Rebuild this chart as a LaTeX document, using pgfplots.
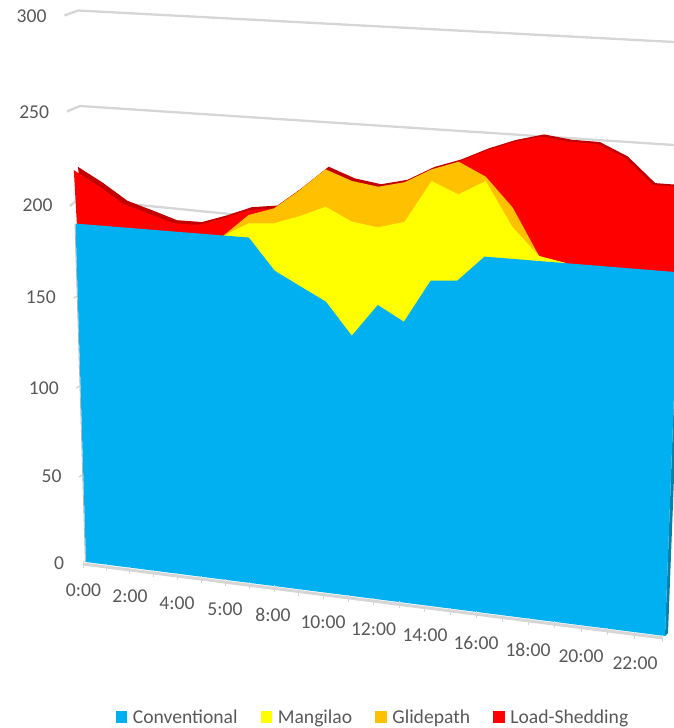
\documentclass[border=0pt]{standalone}
\usepackage{pgfplots}
\usepackage{pgfplotstable}
\usepackage{fontspec}
\setmainfont{Carlito}
\pgfplotsset{compat=1.18}

\definecolor{cblue}{HTML}{00B0F0}
\definecolor{cyellow}{HTML}{FFFF00}
\definecolor{corange}{HTML}{FFC000}
\definecolor{cred}{HTML}{FF0000}
\definecolor{cdark}{HTML}{C00000}
\definecolor{cside}{HTML}{0B7FA6}
\definecolor{cgrid}{HTML}{D6D6D6}
\definecolor{ctext}{HTML}{595959}

% hour, then the four stacked series
\pgfplotstableread{
h  con   man  gli  lsh
0  190   0    0    28.7
1  190   0    0    21.3
2  190   0    0    12.6
3  190   0    0    8.6
4  190   0    0    4.4
5  190   0    0    4.5
6  190   0    0    9.1
7  190   7.5  4.4  2.6
8  173.6 25.0 7.8  0
9  166.5 36.9 13.5 0
10 159.5 49.8 19.3 0
11 142.7 59.9 21.0 0
12 160.2 40.5 20.9 0
13 152.6 52.0 20.3 0
14 175.3 51.2 5.9  0
15 176.5 44.2 16.5 0
16 190   38.4 2.2  13.1
17 190   16.3 9.8  32.8
18 190   2.5  0    60.0
19 190   0    0    60.8
20 190   0    0    60.6
21 190   0    0    54.5
22 190   0    0    42.3
23 190   0    0    42.3
}\loaddata

\begin{document}
\begin{tikzpicture}[
  declare function={
    projw(\u,\v)=1-0.07459*\u/23-0.06045*\v/300;
    projx(\u,\v)=(529.40*\u/23-21.17*\v/300+86)/projw(\u,\v);
    projy(\u,\v)=(26.56*\u/23-547.91*\v/300+562)/projw(\u,\v);
  },
  lab/.style={text=ctext,font=\fontsize{19.6}{22}\selectfont,inner sep=0pt}
]
\useasboundingbox (0,0) rectangle (674pt,728pt);
\begin{axis}[
  at={(0,0)},anchor=south west,
  scale only axis,width=674pt,height=728pt,
  xmin=0,xmax=674,ymin=0,ymax=728,y dir=reverse,
  hide axis,
  legend columns=-1,
  legend cell align=left,
  legend style={at={(axis cs:373,717)},anchor=center,draw=none,fill=none,
    font=\fontsize{19.6}{22}\selectfont,text=ctext,inner sep=0pt,
    /tikz/every even column/.append style={column sep=21pt},
    /tikz/every odd column/.append style={column sep=4pt}},
]
% wall gridlines
\addplot[cgrid,line width=2.3pt,forget plot] coordinates {(64.5,15.5)(78,10.5)(674,42)};
\addplot[cgrid,line width=2.3pt,forget plot] coordinates {(67,111.5)(80,106)(674,145)};
\addplot[cgrid,line width=2.3pt,forget plot] coordinates {(70,206)(78,199)(240,215)};
% short ticks and the edge on the left of the wall
\addplot[cgrid,line width=1.5pt,forget plot] coordinates {(73.5,298)(78,296)};
\addplot[cgrid,line width=1.5pt,forget plot] coordinates {(76,388)(80,386)};
\addplot[cgrid,line width=1.5pt,forget plot] coordinates {(79,477)(84,474)};
\addplot[cgrid!85!black,line width=0.8pt,forget plot] coordinates {(75,224)(85.4,562)};

% floor edge and category ticks
\addplot[cgrid,line width=3pt,forget plot] coordinates {(83,564)(663,638)};
\addplot[cgrid,only marks,mark=|,mark size=3.5pt,mark options={line width=1pt},forget plot]
  table[x expr={projx(\thisrow{h},0)-3},y expr={projy(\thisrow{h},0)+2.5}] {\loaddata};

% areas, back to front: each is closed inside the area in front of it
\addplot[fill=cdark,draw=none,forget plot]
  table[x expr={projx(\thisrow{h},\thisrow{con}+\thisrow{man}+\thisrow{gli}+\thisrow{lsh})+4-2*\thisrow{h}/23},
        y expr={projy(\thisrow{h},\thisrow{con}+\thisrow{man}+\thisrow{gli}+\thisrow{lsh})-3.3+1.5*\thisrow{h}/23}] {\loaddata}
  -- (axis cs:677,275) -- (axis cs:600,500) -- (axis cs:120,450) -- cycle;
\addplot[fill=cred,draw=none,forget plot]
  table[x expr={projx(\thisrow{h},\thisrow{con}+\thisrow{man}+\thisrow{gli}+\thisrow{lsh})},
        y expr={projy(\thisrow{h},\thisrow{con}+\thisrow{man}+\thisrow{gli}+\thisrow{lsh})}] {\loaddata}
  -- (axis cs:677,275) -- (axis cs:600,500) -- (axis cs:120,450) -- (axis cs:77,226) -- cycle;
\addplot[fill=corange,draw=none,forget plot,skip coords between index={0}{6},skip coords between index={20}{24}]
  table[x expr={projx(\thisrow{h},\thisrow{con}+\thisrow{man}+\thisrow{gli})},
        y expr={projy(\thisrow{h},\thisrow{con}+\thisrow{man}+\thisrow{gli})}] {\loaddata}
  -- (axis cs:350,450) -- cycle;
\addplot[fill=cyellow,draw=none,forget plot,skip coords between index={0}{6},skip coords between index={20}{24}]
  table[x expr={projx(\thisrow{h},\thisrow{con}+\thisrow{man})},
        y expr={projy(\thisrow{h},\thisrow{con}+\thisrow{man})}] {\loaddata}
  -- (axis cs:350,450) -- cycle;
\addplot[fill=cside,draw=none,forget plot]
  coordinates {(665,636)(668,633)(682,270)(678.6,272.4)} -- cycle;
\addplot[fill=cblue,draw=none,forget plot]
  table[x expr={projx(\thisrow{h},\thisrow{con})},y expr={projy(\thisrow{h},\thisrow{con})}] {\loaddata}
  -- (axis cs:665,636) -- (axis cs:86,562) -- cycle;

% legend in the order of the reference
\pgfplotsset{legend image code/.code={\fill[#1] (0pt,-5.4pt) rectangle (10.8pt,5.4pt);}}
\addlegendimage{cblue}
\addlegendentry{Conventional}
\addlegendimage{cyellow}
\addlegendentry{Mangilao}
\addlegendimage{corange}
\addlegendentry{Glidepath}
\addlegendimage{cred}
\addlegendentry{Load-Shedding}

% value labels follow the slanted wall
\node[lab,anchor=east] at (axis cs:46.7,16) {300};
\node[lab,anchor=east] at (axis cs:49.3,112) {250};
\node[lab,anchor=east] at (axis cs:52.7,205) {200};
\node[lab,anchor=east] at (axis cs:56,297.5) {150};
\node[lab,anchor=east] at (axis cs:59,388) {100};
\node[lab,anchor=east] at (axis cs:61.7,476) {50};
\node[lab,anchor=east] at (axis cs:64.3,563) {0};

% category labels
\node[lab] at (axis cs:83.5,590.5) {0:00};
\node[lab] at (axis cs:130,596.5) {2:00};
\node[lab] at (axis cs:177,603) {4:00};
\node[lab] at (axis cs:225,609) {5:00};
\node[lab] at (axis cs:273,615) {8:00};
\node[lab] at (axis cs:323,622) {10:00};
\node[lab] at (axis cs:373.5,629) {12:00};
\node[lab] at (axis cs:425,635.5) {14:00};
\node[lab] at (axis cs:476,642.5) {16:00};
\node[lab] at (axis cs:528,650) {18:00};
\node[lab] at (axis cs:581,656.5) {20:00};
\node[lab] at (axis cs:635,663.5) {22:00};
\end{axis}
\end{tikzpicture}
\end{document}
